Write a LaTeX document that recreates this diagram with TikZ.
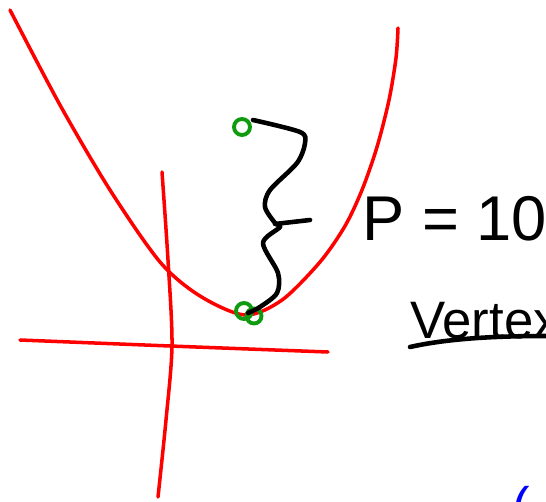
\documentclass[tikz,border=0pt]{standalone}
\usepackage{fontspec}
\setmainfont{Liberation Sans}
\usetikzlibrary{positioning}
\definecolor{sketchred}{HTML}{FF0000}
\definecolor{sketchgreen}{HTML}{109A10}
\definecolor{sketchblue}{HTML}{0000FF}

\begin{document}
\begin{tikzpicture}[
    x=0.02cm, y=-0.02cm,
    curve/.style={draw=sketchred, line width=2pt, line cap=round, line join=round},
    ink/.style={draw=black, line width=2.6pt, line cap=round, line join=round},
    dot/.style={circle, draw=sketchgreen, line width=2.2pt, minimum size=0.32cm, inner sep=0pt},
    hand/.style={font=\fontsize{36}{42}\selectfont, inner sep=0pt, anchor=west}
]
    \useasboundingbox (0,0) rectangle (546,502);

    % axes
    \draw[curve] plot[smooth] coordinates {(20,340) (170,346) (328,352)};
    \draw[curve] plot[smooth] coordinates {(162,172) (168,260) (172,345) (166,420) (158,497)};

    % parabola
    \draw[curve] plot[smooth] coordinates {(10,10) (60,105) (110,190) (160,262) (200,296)
        (245,315) (282,300) (320,262) (345,226) (362,190) (377,147) (389,100) (396,58) (398,28)};

    % points on the parabola
    \node[dot] (focus) at (242,127) {};
    \node[dot] (vertex) at (244,311) {};
    \node[dot, minimum size=0.3cm] (vertex2) at (254,316) {};

    % distance brace
    \draw[ink] plot[smooth] coordinates {(253,120) (300,132) (305,143) (297,163)
        (270,190) (265,207) (275,223) (280,227) (263,243) (278,273) (277,293) (260,307) (248,313)};
    \draw[ink] (275,224) -- (310,220);

    % labels
    \node[hand] (p) at (362,219) {P = 10};
    \node[hand, font=\fontsize{30}{36}\selectfont, anchor=base west] (vlabel) at (410,338) {Vertex};
    \path (vlabel.base west) ++(0,9) coordinate (u1);
    \draw[ink] (u1) .. controls (450,338) and (500,336) .. (546,336);
    \node[font=\fontsize{30}{36}\selectfont, text=sketchblue, anchor=north west, inner sep=0pt] (blue) at (512,486) {(};
\end{tikzpicture}
\end{document}
